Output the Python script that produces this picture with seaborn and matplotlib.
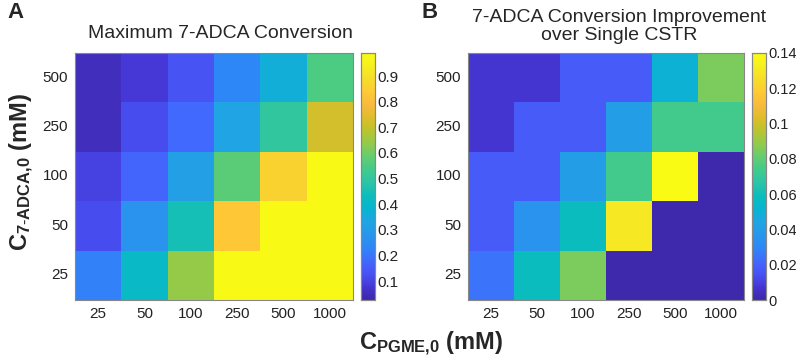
import numpy as np
import pandas as pd
import matplotlib
matplotlib.use('Agg')
import matplotlib.pyplot as plt
from matplotlib.colors import LinearSegmentedColormap
import seaborn as sns

# Axis categories
pgme = ['25', '50', '100', '250', '500', '1000']
adca = ['500', '250', '100', '50', '25']   # top to bottom

# Panel A: maximum 7-ADCA conversion (rows = 7-ADCA, cols = PGME)
conv_500 = [0.05, 0.08, 0.13, 0.23, 0.36, 0.55]
conv_250 = [0.05, 0.12, 0.18, 0.33, 0.50, 0.72]
conv_100 = [0.10, 0.17, 0.31, 0.57, 0.86, 0.98]
conv_50 = [0.12, 0.27, 0.45, 0.83, 0.98, 0.98]
conv_25 = [0.22, 0.41, 0.64, 0.98, 0.98, 0.98]

# Panel B: improvement over single CSTR
imp_500 = [0.007, 0.007, 0.018, 0.018, 0.050, 0.085]
imp_250 = [0.007, 0.018, 0.018, 0.040, 0.074, 0.074]
imp_100 = [0.018, 0.018, 0.040, 0.074, 0.140, 0.001]
imp_50 = [0.018, 0.035, 0.058, 0.130, 0.001, 0.001]
imp_25 = [0.025, 0.058, 0.085, 0.001, 0.001, 0.001]

conv = pd.DataFrame([conv_500, conv_250, conv_100, conv_50, conv_25], index=adca, columns=pgme)
imp = pd.DataFrame([imp_500, imp_250, imp_100, imp_50, imp_25], index=adca, columns=pgme)

# parula-like colormap
parula_pts = [
    (0.2422, 0.1504, 0.6603), (0.2706, 0.2147, 0.8364), (0.2810, 0.3228, 0.9579),
    (0.2602, 0.4123, 0.9952), (0.1786, 0.5289, 0.9682), (0.1540, 0.5902, 0.9218),
    (0.1248, 0.6459, 0.8883), (0.0297, 0.7082, 0.8163), (0.0433, 0.7411, 0.7394),
    (0.1717, 0.7670, 0.6554), (0.2470, 0.7918, 0.5567), (0.3909, 0.8029, 0.4354),
    (0.5616, 0.7942, 0.3045), (0.7242, 0.7698, 0.1910), (0.8634, 0.7406, 0.1596),
    (0.9728, 0.7298, 0.2394), (0.9952, 0.7893, 0.2028), (0.9676, 0.8639, 0.1643),
    (0.9628, 0.9373, 0.1265), (0.9769, 0.9839, 0.0805),
]
parula = LinearSegmentedColormap.from_list('parula', parula_pts, N=256)

sns.set_style('white')
plt.rcParams['font.family'] = ['Liberation Sans', 'DejaVu Sans']
plt.rcParams['mathtext.fontset'] = 'custom'
plt.rcParams['mathtext.rm'] = 'Liberation Sans'
plt.rcParams['mathtext.bf'] = 'Liberation Sans:bold'
plt.rcParams['mathtext.it'] = 'Liberation Sans:italic'

W, H = 796, 363
fig = plt.figure(figsize=(W / 100, H / 100), dpi=100)


def box(x0, y0, x1, y1):
    return [x0 / W, 1 - y1 / H, (x1 - x0) / W, (y1 - y0) / H]


axA = fig.add_axes(box(75, 53, 353, 300))
cbA = fig.add_axes(box(361, 53, 375, 300))
axB = fig.add_axes(box(468, 53, 744, 300))
cbB = fig.add_axes(box(752, 53, 766, 300))

sns.heatmap(conv, ax=axA, cbar_ax=cbA, cmap=parula, vmin=0.026, vmax=0.99)
sns.heatmap(imp, ax=axB, cbar_ax=cbB, cmap=parula, vmin=0, vmax=0.14)

cbA.set_yticks([0.1, 0.2, 0.3, 0.4, 0.5, 0.6, 0.7, 0.8, 0.9])
cbA.set_yticklabels(['0.1', '0.2', '0.3', '0.4', '0.5', '0.6', '0.7', '0.8', '0.9'])
cbB.set_yticks([0, 0.02, 0.04, 0.06, 0.08, 0.1, 0.12, 0.14])
cbB.set_yticklabels(['0', '0.02', '0.04', '0.06', '0.08', '0.1', '0.12', '0.14'])

for ax in (axA, axB):
    ax.tick_params(axis='both', length=0, labelsize=11, colors='#222222', pad=5)
    ax.set_yticklabels(ax.get_yticklabels(), rotation=0)
    ax.set_xticklabels(ax.get_xticklabels(), rotation=0)
    ax.set_xlabel('')
    ax.set_ylabel('')
    for s in ax.spines.values():
        s.set_visible(True)
        s.set_color('#888888')
        s.set_linewidth(0.8)

for cb, fs in ((cbA, 11), (cbB, 10.5)):
    cb.tick_params(axis='y', direction='in', length=3, width=0.6, labelsize=fs,
                   labelcolor='#222222', color='#666666', pad=1.5, right=True, left=False)
    for s in cb.spines.values():
        s.set_visible(True)
        s.set_color('#888888')
        s.set_linewidth(0.8)

# Titles
fig.text(220 / W, 1 - 34 / H, 'Maximum 7-ADCA Conversion', ha='center', va='center', fontsize=14)
fig.text(619 / W, 1 - 17 / H, '7-ADCA Conversion Improvement', ha='center', va='center', fontsize=14)
fig.text(619 / W, 1 - 36 / H, 'over Single CSTR', ha='center', va='center', fontsize=14)

# Panel letters
fig.text(16 / W, 1 - 13 / H, 'A', ha='center', va='center', fontsize=16, fontweight='bold')
fig.text(430 / W, 1 - 13 / H, 'B', ha='center', va='center', fontsize=16, fontweight='bold')

# Axis labels
fig.text(22 / W, 1 - 172 / H, r'$\mathbf{C_{7\text{-}ADCA{,}0}}$ (mM)', ha='center', va='center',
         rotation=90, fontsize=17, fontweight='bold')
fig.text(431 / W, 1 - 344 / H, r'$\mathbf{C_{PGME{,}0}}$ (mM)', ha='center', va='center',
         fontsize=17, fontweight='bold')

fig.savefig('out.png', dpi=100)
